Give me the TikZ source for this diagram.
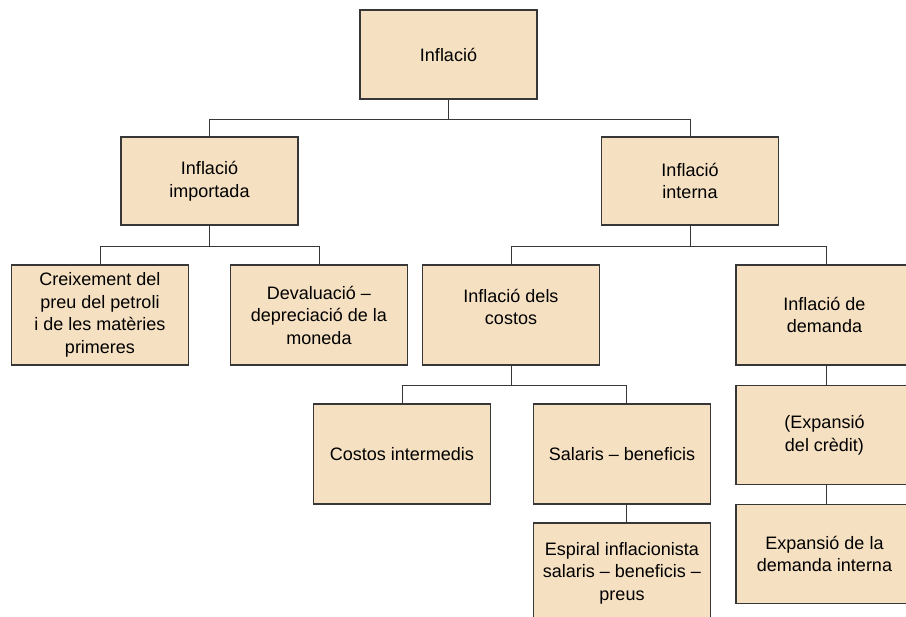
\documentclass[tikz,border=0pt]{standalone}
\usepackage{fontspec}
\setmainfont{Liberation Sans}
\usetikzlibrary{calc}
\definecolor{boxfill}{RGB}{245,224,193}
\definecolor{linecol}{RGB}{55,55,55}
\begin{document}
\begin{tikzpicture}[x=1pt,y=-1pt,
  box/.style={draw=linecol,fill=boxfill,line width=1.1pt,minimum width=177pt,minimum height=100pt,
    inner sep=2pt,align=center,font=\fontsize{18}{22.5}\selectfont},
  link/.style={draw=linecol,line width=1pt}]
\path[use as bounding box,clip] (0,0) rectangle (906,617);
\node[box,minimum height=89pt] (A) at (448.5,54.5) {Inflació};
\node[box,minimum height=88pt] (B) at (209.5,181) {Inflació\\importada};
\node[box,minimum height=88pt] (C) at (690,181) {Inflació\\interna};
\node[box] (D) at (100,315) {Creixement del\\preu del petroli\\i de les matèries\\primeres};
\node[box] (E) at (319,315) {Devaluació –\\depreciació de la\\moneda};
\node[box] (F) at (511,315) {Inflació dels\\costos\\[-6pt]\mbox{}};
\node[box] (G) at (824.5,315) {Inflació de\\demanda};
\node[box] (H) at (402,454) {Costos intermedis};
\node[box] (I) at (622,454) {Salaris – beneficis};
\node[box] (J) at (622,573) {Espiral inflacionista\\salaris – beneficis –\\preus};
\node[box,minimum height=99pt] (K) at (824.5,435) {(Expansió\\del crèdit)};
\node[box,minimum height=99pt] (L) at (824.5,554) {Expansió de la\\demanda interna};
% connectors
\draw[link] (A.south) -- ++(0,20) coordinate (a1);
\draw[link] (B.north) |- (a1) -| (C.north);
\draw[link] (B.south) -- ++(0,21) coordinate (b1);
\draw[link] (D.north) |- (b1) -| (E.north);
\draw[link] (C.south) -- ++(0,21) coordinate (c1);
\draw[link] (F.north) |- (c1) -| ([xshift=1.5pt]G.north);
\draw[link] (F.south) -- ++(0,20) coordinate (f1);
\draw[link] (H.north) |- (f1) -| ([xshift=4pt]I.north);
\draw[link] ([xshift=1.5pt]G.south) -- ([xshift=1.5pt]K.north);
\draw[link] ([xshift=1.5pt]K.south) -- ([xshift=1.5pt]L.north);
\draw[link] ([xshift=4pt]I.south) -- ([xshift=4pt]J.north);
\end{tikzpicture}
\end{document}
